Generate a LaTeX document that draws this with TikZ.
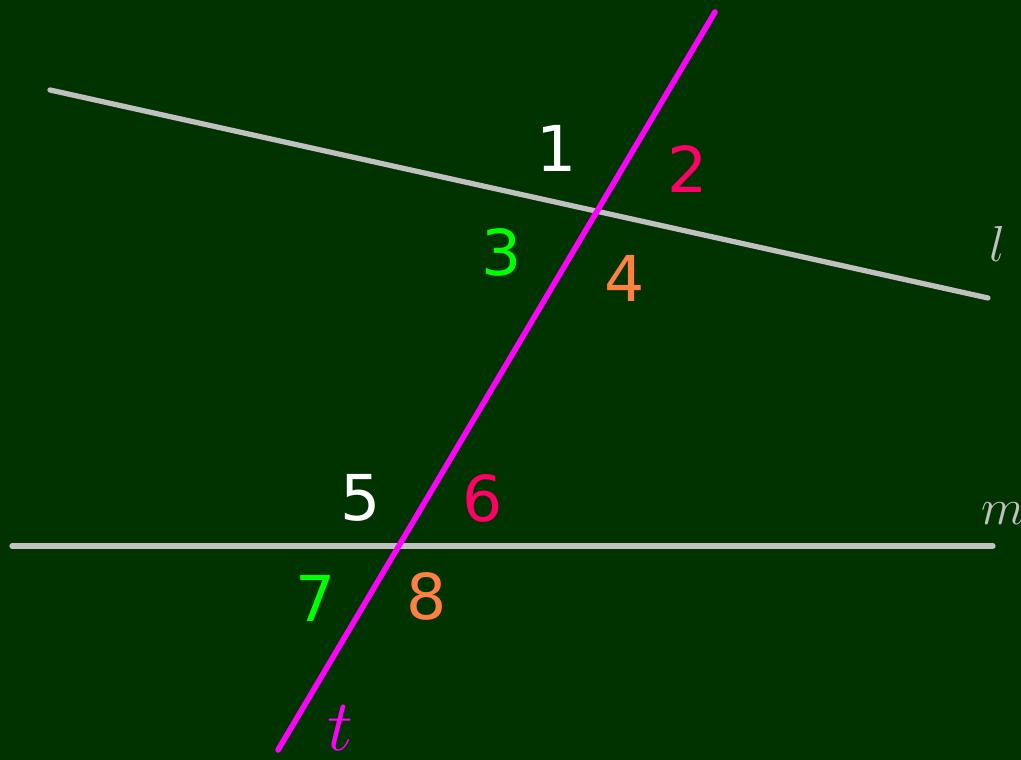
\documentclass[tikz,border=0pt]{standalone}
\usepackage{fontspec}
\newfontfamily\digitfont{DejaVu Sans}
\definecolor{board}{HTML}{003300}
\definecolor{chalk}{HTML}{C0C0C0}
\definecolor{transv}{HTML}{FF00FF}
\definecolor{angpink}{HTML}{FF0066}
\definecolor{anggreen}{HTML}{00FF00}
\definecolor{angorange}{HTML}{FF8040}
\begin{document}
\begin{tikzpicture}[line cap=round,
    angnum/.style={font=\digitfont\fontsize{18}{20}\selectfont, inner sep=0pt},
    linename/.style={anchor=base, inner sep=0pt, font=\fontsize{14}{16}\selectfont}]
        \fill[board] (0,0) rectangle (10.21,7.60);
        \useasboundingbox (0,0) rectangle (10.21,7.60);
        \coordinate (L1) at (0.50,6.70);
        \coordinate (L2) at (9.88,4.62);
        \coordinate (M1) at (0.12,2.14);
        \coordinate (M2) at (9.93,2.14);
        \coordinate (T1) at (2.78,0.10);
        \coordinate (T2) at (7.15,7.48);
        \draw[chalk, line width=1.5pt] (L1) -- (L2);
        \draw[chalk, line width=1.5pt] (M1) -- (M2);
        \draw[transv, line width=1.6pt] (T1) -- (T2);
        % angle numbers
        \node[angnum, white] (n1) at (5.57,6.12) {1};
        \node[angnum, angpink] (n2) at (6.88,5.91) {2};
        \node[angnum, anggreen] (n3) at (5.02,5.08) {3};
        \node[angnum, angorange] (n4) at (6.25,4.82) {4};
        \node[angnum, white] (n5) at (3.61,2.62) {5};
        \node[angnum, angpink] (n6) at (4.83,2.62) {6};
        \node[angnum, anggreen] (n7) at (3.16,1.62) {7};
        \node[angnum, angorange] (n8) at (4.27,1.64) {8};
        % line names
        \node[linename, chalk] (nl) at (9.97,4.98) {$l$};
        \node[linename, chalk, anchor=base west] (nm) at (9.81,2.35) {$m$};
        \node[linename, transv, font=\fontsize{21}{24}\selectfont] (nt) at (3.40,0.09) {$t$};
\end{tikzpicture}
\end{document}
